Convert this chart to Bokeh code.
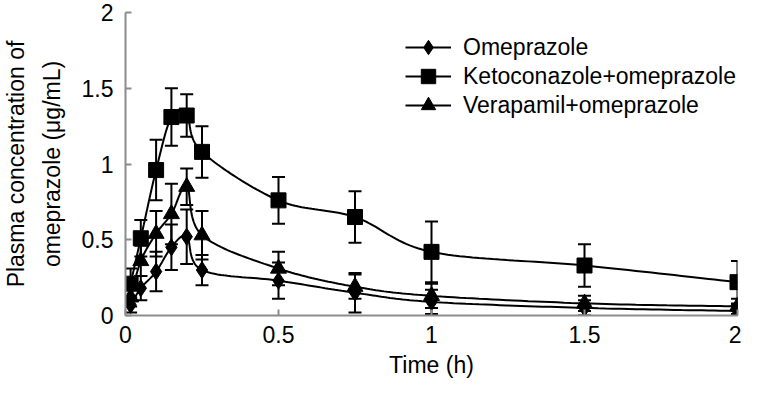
import numpy as np
from bokeh.plotting import figure
from bokeh.models import (ColumnDataSource, Whisker, TeeHead, FixedTicker, Legend,
                          LegendItem, Range1d)
from bokeh.embed import file_html
from bokeh.resources import INLINE

# ---- data ----
times = [0.0167, 0.05, 0.1, 0.15, 0.2, 0.25, 0.5, 0.75, 1.0, 1.5, 2.0]

omeprazole = [0.07, 0.18, 0.29, 0.45, 0.52, 0.30, 0.23, 0.15, 0.09, 0.05, 0.03]
omeprazole_sd = [0.05, 0.08, 0.13, 0.15, 0.18, 0.10, 0.12, 0.13, 0.08, 0.05, 0.04]

ketoconazole = [0.21, 0.51, 0.96, 1.31, 1.32, 1.08, 0.76, 0.65, 0.42, 0.33, 0.22]
ketoconazole_sd = [0.10, 0.12, 0.20, 0.19, 0.14, 0.17, 0.155, 0.17, 0.20, 0.14, 0.14]

verapamil = [0.12, 0.36, 0.54, 0.67, 0.85, 0.53, 0.31, 0.19, 0.13, 0.08, 0.06]
verapamil_sd = [0.06, 0.10, 0.15, 0.20, 0.12, 0.16, 0.11, 0.08, 0.08, 0.05, 0.05]

series_names = ["Omeprazole", "Ketoconazole+omeprazole", "Verapamil+omeprazole"]
x_ticks = [0, 0.5, 1, 1.5, 2]
x_tick_labels = ["0", "0.5", "1", "1.5", "2"]
y_ticks = [0, 0.5, 1, 1.5, 2]
y_tick_labels = ["0", "0.5", "1", "1.5", "2"]

FONT = "Liberation Sans"
FS = "23px"


def smooth(xs, ys, n=24):
    """Catmull-Rom (Excel-style smoothed line) through the data points."""
    p = np.column_stack([xs, ys]).astype(float)
    p = np.vstack([p[0], p, p[-1]])
    out = []
    t = np.linspace(0, 1, n)[:, None]
    for i in range(1, len(p) - 2):
        p0, p1, p2, p3 = p[i - 1], p[i], p[i + 1], p[i + 2]
        seg = 0.5 * ((2 * p1) + (-p0 + p2) * t + (2 * p0 - 5 * p1 + 4 * p2 - p3) * t ** 2
                     + (-p0 + 3 * p1 - 3 * p2 + p3) * t ** 3)
        out.append(seg if i == 1 else seg[1:])
    out = np.vstack(out)
    return out[:, 0], out[:, 1]


p = figure(width=741, height=387, output_backend="svg", toolbar_location=None,
           x_range=Range1d(0, 2), y_range=Range1d(0, 2),
           min_border_left=122, min_border_right=4, min_border_top=12, min_border_bottom=72)
p.outline_line_color = None
p.grid.grid_line_color = None
p.background_fill_color = "white"

markers = ["diamond", "square", "triangle"]
sizes = [17, 15, 16]
values = [omeprazole, ketoconazole, verapamil]
sds = [omeprazole_sd, ketoconazole_sd, verapamil_sd]

line_renderers = []
for name, vals, sd, mk, sz in zip(series_names, values, sds, markers, sizes):
    sx, sy = smooth(times, vals)
    lr = p.line(sx, sy, line_color="black", line_width=2)
    line_renderers.append((name, lr, vals, sd, mk, sz))

legends = []
for i, (name, lr, vals, sd, mk, sz) in enumerate(line_renderers):
    src = ColumnDataSource(dict(
        x=times, y=vals,
        upper=[v + s for v, s in zip(vals, sd)],
        lower=[max(v - s, 0) for v, s in zip(vals, sd)],
    ))
    w = Whisker(base="x", upper="upper", lower="lower", source=src,
                line_color="black", line_width=2,
                upper_head=TeeHead(size=13, line_width=2, line_color="black"),
                lower_head=TeeHead(size=13, line_width=2, line_color="black"))
    p.add_layout(w)
    sr = p.scatter("x", "y", source=src, marker=mk, size=sz,
                   fill_color="black", line_color="black")
    # one legend per entry, so rows can be closer than the marker box
    lg = Legend(items=[LegendItem(label=name, renderers=[lr, sr])],
                location=(280, 250 - 29 * i),
                glyph_width=46, glyph_height=36, label_height=36,
                label_standoff=12, padding=0, margin=0,
                border_line_color=None, background_fill_alpha=0,
                label_text_font=FONT, label_text_font_size=FS,
                label_text_color="black")
    p.add_layout(lg)

for ax in (p.xaxis[0], p.yaxis[0]):
    ax.axis_line_color = "#8c8c8c"
    ax.axis_line_width = 2
    ax.major_tick_line_color = "#8c8c8c"
    ax.major_tick_line_width = 2
    ax.major_tick_in = 6
    ax.major_tick_out = 0
    ax.minor_tick_line_color = None
    ax.major_label_text_font = FONT
    ax.major_label_text_font_size = FS
    ax.major_label_text_color = "black"
    ax.axis_label_text_font = FONT
    ax.axis_label_text_font_size = FS
    ax.axis_label_text_font_style = "normal"
    ax.axis_label_text_color = "black"

p.xaxis.ticker = FixedTicker(ticks=x_ticks)
p.xaxis.major_label_overrides = dict(zip(x_ticks, x_tick_labels))
p.yaxis.ticker = FixedTicker(ticks=y_ticks)
p.yaxis.major_label_overrides = dict(zip(y_ticks, y_tick_labels))
p.xaxis.major_label_standoff = 10
p.yaxis.major_label_standoff = 12
p.xaxis.axis_label = "Time (h)"
p.xaxis.axis_label_standoff = 6
p.yaxis.axis_label = "Plasma concentration of\nomeprazole (\u03bcg/mL)"
p.yaxis.axis_label_standoff = 14
p.yaxis.axis_label_text_line_height = 1.35

open("out.html", "w").write(file_html(p, INLINE))
